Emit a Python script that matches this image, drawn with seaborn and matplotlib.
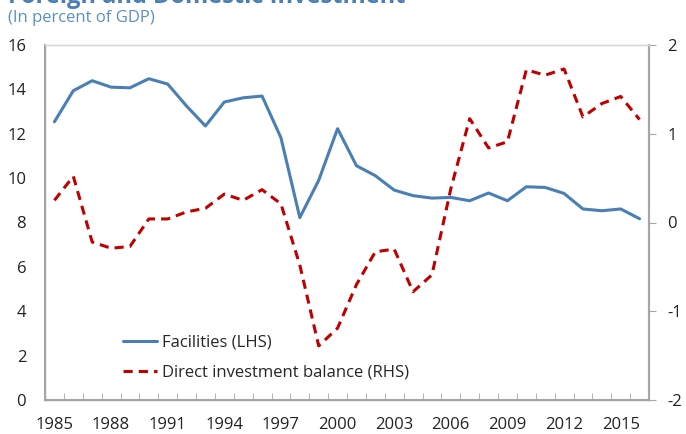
import numpy as np
import pandas as pd
import seaborn as sns
import matplotlib.pyplot as plt
from matplotlib.lines import Line2D

years = list(range(1985, 2017))
facilities = [12.54, 13.94, 14.39, 14.10, 14.07, 14.48, 14.24, 13.25, 12.35, 13.43,
              13.62, 13.70, 11.82, 8.22, 9.90, 12.23, 10.56, 10.11, 9.46, 9.21,
              9.10, 9.13, 8.98, 9.33, 8.98, 9.61, 9.58, 9.31, 8.61, 8.53,
              8.61, 8.17]
direct_inv = [0.25, 0.52, -0.22, -0.29, -0.27, 0.04, 0.04, 0.12, 0.16, 0.32,
              0.25, 0.37, 0.21, -0.48, -1.39, -1.19, -0.70, -0.33, -0.30, -0.78,
              -0.59, 0.38, 1.17, 0.84, 0.91, 1.72, 1.66, 1.73, 1.19, 1.34,
              1.42, 1.16]
tick_years = list(range(1985, 2017, 3))

df = pd.DataFrame({"year": years, "facilities": facilities, "direct": direct_inv})

sns.set_style("white")
plt.rcParams["font.family"] = ["Open Sans", "DejaVu Sans"]
plt.rcParams["axes.unicode_minus"] = False

blue = "#4a7fb5"
red = "#c00000"
grey = "#a6a6a6"

fig = plt.figure(figsize=(6.86, 4.34), dpi=100)
ax = fig.add_axes([45 / 686, 1 - 400 / 434, (649 - 45) / 686, (400 - 45) / 434])
ax2 = ax.twinx()

sns.lineplot(data=df, x="year", y="facilities", ax=ax, color=blue, linewidth=2.2)
sns.lineplot(data=df, x="year", y="direct", ax=ax2, color=red, linewidth=2.2,
             linestyle=(0, (3, 2)))

ax.set_xlim(1984.5, 2016.5)
ax.set_ylim(0, 16)
ax.set_yticks(range(0, 17, 2))
ax2.set_ylim(-2, 2)
ax2.set_yticks([-2, -1, 0, 1, 2])
ax.set_xticks(tick_years)
ax.set_xticks(np.arange(1985.5, 2016.5, 1), minor=True)
ax.set_xlabel("")
ax.set_ylabel("")
ax2.set_ylabel("")

for a in (ax, ax2):
    for s in a.spines.values():
        s.set_color(grey)
        s.set_linewidth(1.0)
    a.grid(False)
ax.spines["right"].set_linewidth(1.5)
ax2.spines["right"].set_linewidth(1.5)
ax.spines["bottom"].set_linewidth(1.5)
ax.spines["left"].set_linewidth(1.5)
ax.spines["top"].set_color("#d9d9d9")
ax2.spines["top"].set_color("#d9d9d9")

ax.tick_params(axis="x", which="major", direction="in", length=0, color=grey,
               labelsize=12, pad=12, bottom=True)
ax.tick_params(axis="x", which="minor", direction="in", length=5, color=grey, bottom=True)
ax.tick_params(axis="y", left=False, labelsize=12, pad=10)
ax2.tick_params(axis="y", right=True, direction="out", length=5, color=grey,
                labelsize=12, pad=8)
for lab in ax.get_xticklabels() + ax.get_yticklabels() + ax2.get_yticklabels():
    lab.set_color("#222222")

handles = [Line2D([], [], color=blue, linewidth=2.2),
           Line2D([], [], color=red, linewidth=2.2, linestyle=(0, (3, 2)))]
ax2.legend(handles, ["Facilities (LHS)", "Direct investment balance (RHS)"],
           loc="lower left", bbox_to_anchor=(0.105, 0.012), frameon=False,
           fontsize=12, handlelength=2.0, handletextpad=0.3, labelspacing=0.85)

fig.text(8 / 686, 1 - 3 / 434, "Foreign and Domestic Investment", color=blue,
         fontsize=17, fontweight="bold", va="baseline", ha="left")
fig.text(8 / 686, 1 - 18 / 434, "(In percent of GDP)", color="#5b8fc4",
         fontsize=12, va="center", ha="left")

fig.savefig("out.png", dpi=100)
